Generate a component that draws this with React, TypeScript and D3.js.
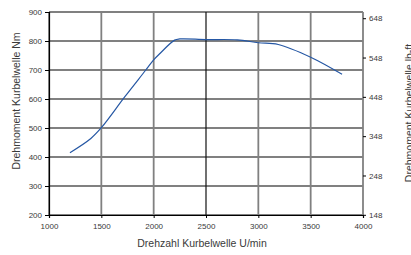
import React, { useRef, useEffect } from 'react';
import * as d3 from 'd3';

// Drehzahl (U/min) und Drehmoment (Nm)
const rpm = [1200, 1400, 1500, 1725, 1925, 2000, 2060, 2200, 2250, 2500, 2800, 3000, 3190, 3500, 3800];
const torqueNm = [415, 464, 501, 608, 700, 735, 757, 803, 807, 805, 804, 794, 788, 744, 685];

const xTicks = [1000, 1500, 2000, 2500, 3000, 3500, 4000];
const yTicks = [200, 300, 400, 500, 600, 700, 800, 900];
const lbftTicks = [148, 248, 348, 448, 548, 648];

const NM_TO_LBFT = 0.73756;
const FONT = '"Liberation Sans", Arial, sans-serif';

const TorqueChart: React.FC = () => {
    const svgRef = useRef<SVGSVGElement | null>(null);

    useEffect(() => {
        if (!svgRef.current) return;
        const svg = d3.select(svgRef.current);
        svg.selectAll('*').remove();

        const left = 49, right = 363, top = 12, bottom = 215;

        const x = d3.scaleLinear().domain([1000, 4000]).range([left, right]);
        const y = d3.scaleLinear().domain([200, 900]).range([bottom, top]);
        const yR = d3.scaleLinear().domain([200 * NM_TO_LBFT, 900 * NM_TO_LBFT]).range([bottom, top]);

        // grid
        svg.append('g')
            .selectAll('line')
            .data(yTicks)
            .enter().append('line')
            .attr('x1', left).attr('x2', right)
            .attr('y1', d => y(d)).attr('y2', d => y(d))
            .attr('stroke', '#808080')
            .attr('stroke-width', 1.8);

        svg.append('g')
            .selectAll('line')
            .data(xTicks)
            .enter().append('line')
            .attr('x1', d => x(d)).attr('x2', d => x(d))
            .attr('y1', top).attr('y2', bottom)
            .attr('stroke', d => d === 2500 ? '#111' : '#808080')
            .attr('stroke-width', d => d === 2500 ? 1.2 : 1.8);

        // left axis
        const gl = svg.append('g')
            .attr('transform', `translate(${left},0)`)
            .call(d3.axisLeft(y).tickValues(yTicks).tickSize(4).tickPadding(3).tickFormat(d3.format('d')));
        gl.select('.domain').attr('stroke', '#000').attr('stroke-width', 1.2);

        // bottom axis
        const gb = svg.append('g')
            .attr('transform', `translate(0,${bottom})`)
            .call(d3.axisBottom(x).tickValues(xTicks).tickSize(3).tickPadding(5).tickFormat(d3.format('d')));
        gb.select('.domain').attr('stroke', '#000').attr('stroke-width', 1.2);

        // right axis (lb-ft)
        const gr = svg.append('g')
            .attr('transform', `translate(${right},0)`)
            .call(d3.axisRight(yR).tickValues(lbftTicks).tickSize(3).tickPadding(3).tickFormat(d3.format('d')));
        gr.select('.domain').remove();

        svg.selectAll('.tick text')
            .attr('font-family', FONT)
            .attr('font-size', 8)
            .attr('fill', '#3a3a3a');
        svg.selectAll('.tick line').attr('stroke', '#000');

        // torque curve
        const line = d3.line<number>()
            .x((d, i) => x(rpm[i]))
            .y(d => y(d))
            .curve(d3.curveCatmullRom.alpha(0.5));

        svg.append('path')
            .datum(torqueNm)
            .attr('d', line)
            .attr('fill', 'none')
            .attr('stroke', '#2557a4')
            .attr('stroke-width', 1.2);

        // titles
        svg.append('text')
            .attr('transform', 'translate(20,101) rotate(-90)')
            .attr('text-anchor', 'middle')
            .attr('font-family', FONT)
            .attr('font-size', 10.5)
            .attr('fill', '#3a3a3a')
            .text('Drehmoment Kurbelwelle Nm');

        svg.append('text')
            .attr('transform', 'translate(413,113) rotate(-90)')
            .attr('text-anchor', 'middle')
            .attr('font-family', FONT)
            .attr('font-size', 10.5)
            .attr('fill', '#3a3a3a')
            .text('Drehmoment Kurbelwelle lb-ft');

        svg.append('text')
            .attr('x', 202)
            .attr('y', 247)
            .attr('text-anchor', 'middle')
            .attr('font-family', FONT)
            .attr('font-size', 10.5)
            .attr('fill', '#3a3a3a')
            .text('Drehzahl Kurbelwelle U/min');
    }, []);

    return (
        <svg ref={svgRef} width={411} height={255}
            style={{ position: 'absolute', left: 0, top: 0, background: '#fff' }} />
    );
};

export default function App() {
    return <TorqueChart />;
}
